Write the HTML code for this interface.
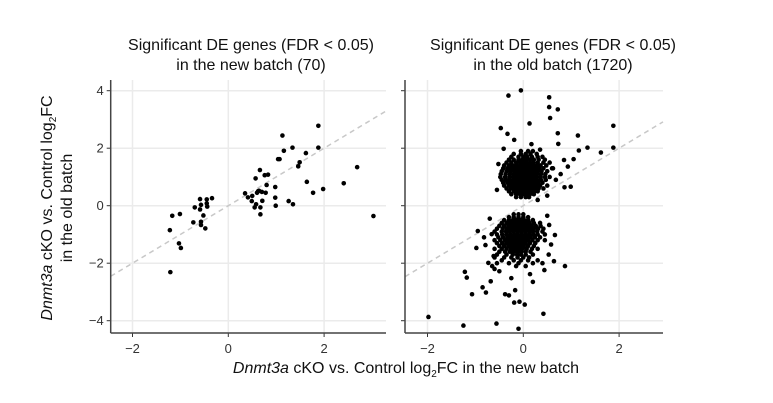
<!DOCTYPE html>
<html><head><meta charset="utf-8"><style>
html,body{margin:0;padding:0;background:#fff;}
svg{display:block;font-family:"Liberation Sans",Arial,sans-serif;}
</style></head><body>
<svg id="chart" width="773" height="403" viewBox="0 0 773 403" xmlns="http://www.w3.org/2000/svg">
<rect width="773" height="403" fill="#fff"/>
<g id="left"></g>
<g id="right"></g>
<text x="251" y="50" font-size="16" text-anchor="middle" fill="#111">Significant DE genes (FDR &lt; 0.05)</text>
<text x="251" y="70" font-size="16" text-anchor="middle" fill="#111">in the new batch (70)</text>
<text x="553" y="50" font-size="16" text-anchor="middle" fill="#111">Significant DE genes (FDR &lt; 0.05)</text>
<text x="553" y="70" font-size="16" text-anchor="middle" fill="#111">in the old batch (1720)</text>
<text transform="translate(52,208) rotate(-90)" font-size="16" text-anchor="middle" fill="#111"><tspan font-style="italic">Dnmt3a</tspan> cKO vs. Control log<tspan font-size="10" dy="4">2</tspan><tspan dy="-4">FC</tspan></text>
<text transform="translate(72,208) rotate(-90)" font-size="16" text-anchor="middle" fill="#111">in the old batch</text>
<text x="406" y="373" font-size="16" text-anchor="middle" fill="#111"><tspan font-style="italic">Dnmt3a</tspan> cKO vs. Control log<tspan font-size="10" dy="4">2</tspan><tspan dy="-4">FC in the new batch</tspan></text>
</svg>
<script>
const xTicks = [-2, 0, 2];
const yTicks = [-4, -2, 0, 2, 4];
const leftX = [1.13,1.88,1.88,1.34,1.16,1.62,1.04,1.49,1.46,0.66,2.69,0.76,0.83,0.57,0.80,1.64,2.41,1.98,1.77,0.98,0.98,1.26,1.35,0.99,0.35,0.41,0.5,0.49,0.6,0.64,0.7,0.78,0.71,0.58,0.55,0.67,0.67,3.03,-0.59,-0.45,-0.34,-0.57,-0.45,-0.44,-0.7,-0.59,-0.52,-1.01,-1.17,-0.73,-0.57,-0.57,-0.48,-1.22,-1.03,-0.99,-1.21,1.07,0.62];
const leftY = [2.44,2.78,2.02,2.02,1.91,1.83,1.62,1.51,1.37,1.24,1.34,1.06,1.08,0.95,0.72,0.83,0.78,0.58,0.45,0.65,0.28,0.16,0.05,0,0.43,0.29,0.34,0.16,0.45,0.52,0.48,0.45,0.17,0.05,-0.06,-0.06,-0.3,-0.36,0.23,0.22,0.26,0.03,0.08,-0.03,-0.06,-0.13,-0.34,-0.29,-0.35,-0.58,-0.56,-0.67,-0.79,-0.85,-1.31,-1.47,-2.31,1.62,0.5];
const rightOutX = [-0.05,-0.31,0.54,0.54,0.72,0.56,0.13,-0.47,1.88,1.88,1.34,1.14,1.62,1.16,0.72,0.73,1.05,0.85,0.93,0.86,0.99,-0.33,-0.19,-0.41,0.17,0.78,-0.95,-0.98,-0.79,-1.22,-1.18,-1.07,-0.85,-0.78,-0.68,-0.5,-1.98,-1.25,-0.56,-0.1,0.42,-0.19,-0.08,0.03,-0.38,-0.3,-0.17,-0.25,0.2,0.44,0.64,0.87,0.66,0.54,0.53,-0.66,-0.73,0.14,0.62,0.68,0.5,-0.55,-0.52,0.35,0.3,-0.7,-0.62,0.5,0.58,-0.82,-0.6,0.4];
const rightOutY = [4.01,3.83,3.77,3.43,3.35,3.05,2.86,2.70,2.78,2.02,2.02,2.44,1.85,1.92,2.52,2.15,1.62,1.59,1.36,0.64,0.66,2.5,2.29,1.98,2.14,1.1,-0.88,-1.47,-1.37,-2.3,-2.5,-3.08,-2.84,-3.02,-2.63,-2.28,-3.87,-4.17,-4.1,-4.28,-3.76,-3.37,-3.34,-3.44,-3.08,-3.12,-2.94,-2.52,-2.65,-2.24,-1.93,-2.1,-1.02,-0.67,-1.7,-0.99,-1.99,-2.38,1.3,0.9,0.35,0.55,1.45,1.95,0.2,-0.45,-1.75,-0.35,-1.35,-1.1,-2.2,-2.0];
const upperRowY = [1.9,1.8,1.7,1.6,1.5,1.4,1.3,1.2,1.1,1.0,0.9,0.8,0.7,0.6,0.5,0.4,0.3];
const upperRowX = [
[-0.05,0.1,0.2],
[-0.2,-0.05,0.05,0.15,0.28],
[-0.25,-0.1,0,0.08,0.18,0.3,0.4],
[-0.3,-0.2,-0.1,-0.02,0.06,0.14,0.22,0.32,0.45],
[-0.35,-0.25,-0.15,-0.07,0,0.07,0.14,0.21,0.3,0.42,0.55],
[-0.4,-0.3,-0.22,-0.14,-0.07,0,0.07,0.14,0.21,0.28,0.36,0.48],
[-0.42,-0.33,-0.25,-0.17,-0.1,-0.03,0.04,0.11,0.18,0.25,0.33,0.42,0.6],
[-0.45,-0.35,-0.27,-0.19,-0.12,-0.05,0.02,0.09,0.16,0.23,0.3,0.38,0.5],
[-0.47,-0.37,-0.28,-0.2,-0.13,-0.06,0.01,0.08,0.15,0.22,0.29,0.37,0.46],
[-0.48,-0.38,-0.29,-0.21,-0.14,-0.07,0,0.07,0.14,0.21,0.28,0.36,0.45,0.55],
[-0.45,-0.36,-0.28,-0.2,-0.13,-0.06,0.01,0.08,0.15,0.22,0.29,0.37,0.47],
[-0.42,-0.33,-0.25,-0.18,-0.11,-0.04,0.03,0.1,0.17,0.24,0.31,0.4],
[-0.4,-0.3,-0.22,-0.15,-0.08,-0.01,0.06,0.13,0.2,0.27,0.35,0.5],
[-0.35,-0.26,-0.18,-0.11,-0.04,0.03,0.1,0.17,0.24,0.32,0.42],
[-0.3,-0.2,-0.12,-0.05,0.02,0.09,0.16,0.23,0.3],
[-0.25,-0.15,-0.07,0,0.07,0.14,0.22],
[-0.15,-0.05,0.05,0.12]];
const lowerRowY = [-0.3,-0.4,-0.5,-0.6,-0.7,-0.8,-0.9,-1.0,-1.1,-1.2,-1.3,-1.4,-1.5,-1.6,-1.7,-1.8,-1.9,-2.0,-2.1];
const lowerRowX = [
[-0.2,-0.1,0],
[-0.3,-0.2,-0.1,0,0.1],
[-0.4,-0.3,-0.22,-0.14,-0.06,0.02,0.1,0.2],
[-0.45,-0.35,-0.27,-0.19,-0.11,-0.03,0.05,0.13,0.22,0.35],
[-0.5,-0.4,-0.31,-0.23,-0.15,-0.07,0.01,0.09,0.17,0.26,0.36],
[-0.55,-0.43,-0.34,-0.26,-0.18,-0.1,-0.02,0.06,0.14,0.22,0.31,0.42],
[-0.6,-0.45,-0.36,-0.28,-0.2,-0.12,-0.04,0.04,0.12,0.2,0.29,0.4],
[-0.55,-0.44,-0.35,-0.27,-0.19,-0.11,-0.03,0.05,0.13,0.21,0.3,0.45],
[-0.52,-0.42,-0.33,-0.25,-0.17,-0.09,-0.01,0.07,0.15,0.24,0.35],
[-0.6,-0.48,-0.38,-0.3,-0.22,-0.14,-0.06,0.02,0.1,0.19,0.3,0.45],
[-0.55,-0.44,-0.35,-0.27,-0.19,-0.11,-0.03,0.05,0.14,0.25],
[-0.5,-0.4,-0.31,-0.23,-0.15,-0.07,0.01,0.1,0.22],
[-0.6,-0.45,-0.35,-0.26,-0.18,-0.1,-0.02,0.07,0.18,0.3],
[-0.5,-0.38,-0.28,-0.2,-0.12,-0.04,0.05,0.15],
[-0.55,-0.35,-0.22,-0.13,-0.05,0.05,0.2],
[-0.6,-0.4,-0.25,-0.12,0,0.12],
[-0.45,-0.2,-0.05,0.1,0.3],
[-0.55,-0.3,-0.1,0.2],
[-0.65,-0.15,0.05]];

const NS = "http://www.w3.org/2000/svg";
const Y_TOP = 80, Y_BOT = 333;
function yScale(v){ return 205.7 - v * 28.75; }
function makeX(x0px){ return v => x0px + v * 47.9; }

function el(tag, attrs, parent){
  const e = document.createElementNS(NS, tag);
  for (const k in attrs) e.setAttribute(k, attrs[k]);
  parent.appendChild(e); return e;
}

function drawPanel(g, left, right, x0px, showYLabels, name){
  const xScale = makeX(x0px);
  xTicks.forEach(t => {
    const ln = el('line', {x1:xScale(t), x2:xScale(t), y1:Y_TOP, y2:Y_BOT, stroke:'#ebebeb', 'stroke-width':1.5}, g);
    
    
    const tk = el('line', {x1:xScale(t), x2:xScale(t), y1:Y_BOT, y2:Y_BOT+4, stroke:'#333', 'stroke-width':1}, g);
    
    
    const lb = el('text', {x:xScale(t), y:353, 'font-size':13, 'text-anchor':'middle', fill:'#333'}, g);
    lb.textContent = t < 0 ? '\u2212' + Math.abs(t) : String(t);
    
    
  });
  yTicks.forEach(t => {
    const ln = el('line', {x1:left, x2:right, y1:yScale(t), y2:yScale(t), stroke:'#ebebeb', 'stroke-width':1.5}, g);
    
    
    const tk = el('line', {x1:left-4, x2:left, y1:yScale(t), y2:yScale(t), stroke:'#333', 'stroke-width':1}, g);
    
    
    if (showYLabels){
      const lb = el('text', {x:left-7, y:yScale(t)+4.5, 'font-size':13, 'text-anchor':'end', fill:'#333'}, g);
      lb.textContent = t < 0 ? '\u2212' + Math.abs(t) : String(t);
      
      
    }
  });
  const vL = (left - x0px)/47.9, vR = (right - x0px)/47.9;
  const d = el('line', {x1:left, y1:yScale(vL), x2:right, y2:yScale(vR), stroke:'#c8c8c8', 'stroke-width':1.5, 'stroke-dasharray':'5,4'}, g);
  
  
  return xScale;
}

function dot(g, xs, x, y, name){
  const c = el('circle', {cx:xs(x), cy:yScale(y), r:2.3, fill:'#000'}, g);
  
  
}

const gL = document.getElementById('left');
const xsL = drawPanel(gL, 110.7, 386, 228.3, true, 'left');
leftX.forEach((x, i) => dot(gL, xsL, x, leftY[i], 'gene-point'));

const gR = document.getElementById('right');
const xsR = drawPanel(gR, 405, 663, 523.3, false, 'right');
upperRowY.forEach((y, i) => upperRowX[i].forEach(x => dot(gR, xsR, x, y, 'gene-point')));
lowerRowY.forEach((y, i) => lowerRowX[i].forEach(x => dot(gR, xsR, x, y, 'gene-point')));
rightOutX.forEach((x, i) => dot(gR, xsR, x, rightOutY[i], 'gene-point'));

[[gL,110.7,386],[gR,405,663]].forEach(([g,l,r]) => {
  const a = el('line', {x1:l, x2:l, y1:Y_TOP, y2:Y_BOT, stroke:'#444', 'stroke-width':1.5}, g);
  
  
  const b = el('line', {x1:l, x2:r, y1:Y_BOT, y2:Y_BOT, stroke:'#444', 'stroke-width':1.5}, g);
  
  
});
</script>
</body></html>
